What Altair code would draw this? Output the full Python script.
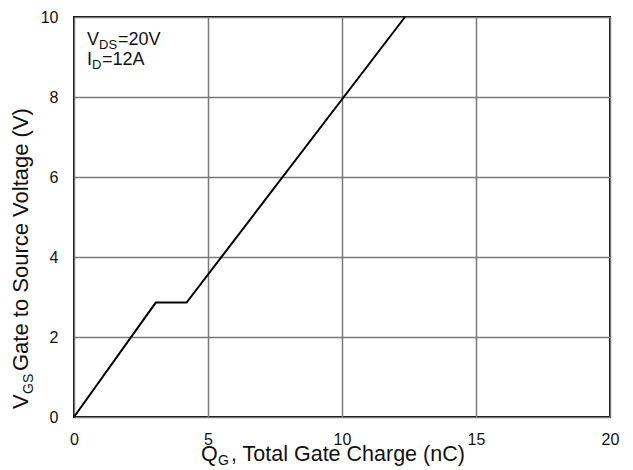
import altair as alt
import pandas as pd

# Data
qg = [0, 3.05, 4.2, 12.35]
vgs = [0, 2.86, 2.86, 10]
x_ticks = [0, 5, 10, 15, 20]
y_ticks = [0, 2, 4, 6, 8, 10]

FONT = "Liberation Sans"
W, H = 536, 400

df = pd.DataFrame({"qg": qg, "vgs": vgs})

line = alt.Chart(df).mark_line(color="black", strokeWidth=2).encode(
    x=alt.X("qg:Q", scale=alt.Scale(domain=[0, 20], nice=False),
            axis=alt.Axis(values=x_ticks, title=None, grid=True, gridColor="#7a7a7a",
                          gridWidth=1.5, domain=False, ticks=False, labelFont=FONT,
                          labelFontSize=16, labelColor="#111", labelPadding=14,
                          labelAngle=0, labelFlush=False)),
    y=alt.Y("vgs:Q", scale=alt.Scale(domain=[0, 10], nice=False),
            axis=alt.Axis(values=y_ticks, title=None, grid=True, gridColor="#7a7a7a",
                          gridWidth=1.5, domain=False, ticks=False, labelFont=FONT,
                          labelFontSize=16, labelColor="#111", labelPadding=16,
                          labelFlush=False)),
)


def txt(s, x, y, size=18, angle=0, color="#111"):
    kw = dict(align="left", baseline="alphabetic", font=FONT, fontSize=size, color=color)
    if angle:
        kw["angle"] = angle
    return alt.Chart(pd.DataFrame({"t": [s]})).mark_text(**kw).encode(
        text="t:N", x=alt.value(x), y=alt.value(y))


layers = [line,
          # annotation
          txt("V", 13, 28), txt("DS", 25, 32, size=13), txt("=20V", 44, 28),
          txt("I", 13, 48), txt("D", 18, 52, size=13), txt("=12A", 28, 48),
          # x title
          txt("Q", 127, 444, size=21.5), txt("G", 144, 448, size=14),
          txt(", Total Gate Charge  (nC)", 157, 444, size=21.5),
          # y title
          txt("V", -46, 392, size=22, angle=270),
          txt("GS", -41, 377, size=14, angle=270),
          txt("Gate to Source Voltage (V)", -46, 354, size=22, angle=270),
          ]

chart = alt.layer(*layers).properties(
    width=W, height=H,
    autosize=alt.AutoSizeParams(type="none"),
    padding={"left": 66, "top": 9, "right": 15, "bottom": 54},
).configure_view(stroke="black", strokeWidth=2)

chart.save("out.html", embed_options={"renderer": "svg", "actions": False})
